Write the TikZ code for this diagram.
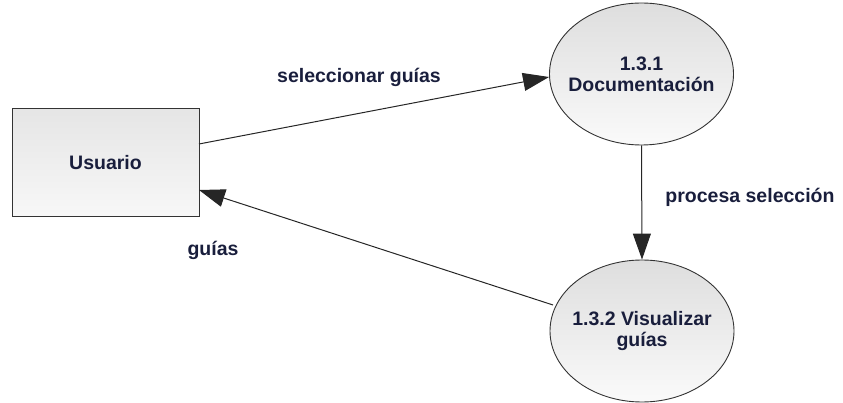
\documentclass[tikz,border=0pt]{standalone}
\usepackage{fontspec}
\setmainfont{Liberation Sans}
\usetikzlibrary{arrows.meta,shapes.geometric}
\definecolor{txt}{RGB}{25,30,60}
\begin{document}
\begin{tikzpicture}[x=1pt,y=-1pt,
  lbl/.style={font=\bfseries\fontsize{19.5}{21}\selectfont, text=txt, align=center},
  boxnode/.style={draw=black!80, line width=1pt, top color=black!10, bottom color=black!3, minimum width=187pt, minimum height=108pt, inner sep=0pt},
  proc/.style={ellipse, draw=black!80, line width=0.9pt, top color=black!13, bottom color=black!2, minimum width=184pt, minimum height=142pt, inner sep=0pt},
  flow/.style={draw=black!85, line width=1pt, -{Triangle[length=26pt,width=18pt]}}]
\useasboundingbox (0,0) rectangle (843,403);
\node[boxnode, lbl] (u) at (105.5,163) {Usuario};
\node[proc] (d) at (641.5,74) {};
\node[lbl] (dt) at (d.center) {1.3.1\\Documentación};
\node[proc] (v) at (642,331) {};
\node[lbl] (vt) at (v.center) {1.3.2 Visualizar\\guías};
\node[lbl] (l1) at (359,77) {seleccionar guías};
\node[lbl] (l2) at (750,197) {procesa selección};
\node[lbl] (l3) at (213,250) {guías};
\coordinate (a1) at (199,144);
\coordinate (a2) at (553,305);
\coordinate (a3) at (199,190);
\draw[flow] (a1) -- (d.west |- 0,77);
\draw[flow] (d.south) -- (v.north);
\draw[flow] (a2) -- (a3);
\end{tikzpicture}
\end{document}
